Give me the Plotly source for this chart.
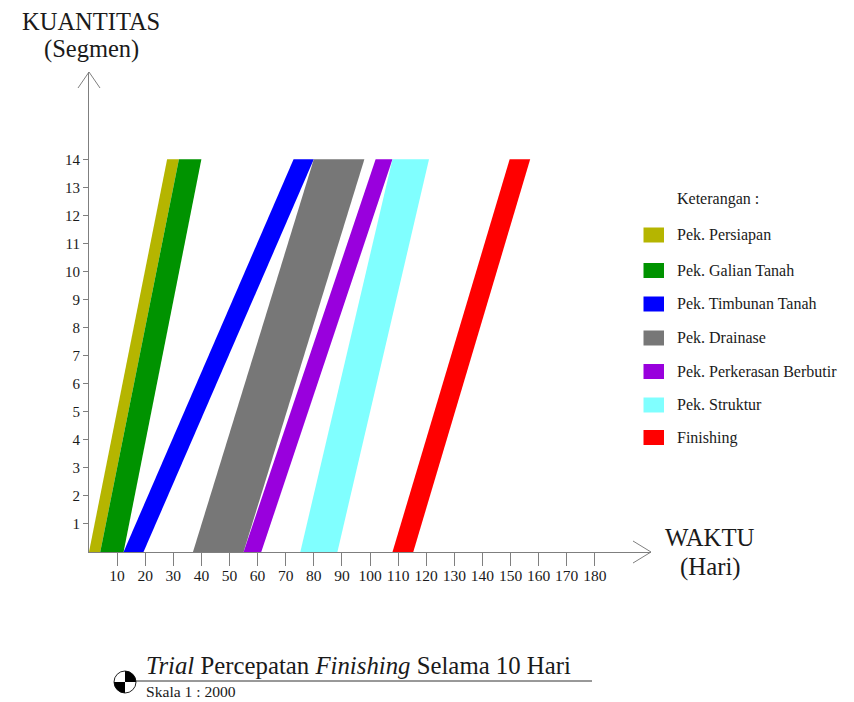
import plotly.graph_objects as go

names = ["Pek. Persiapan", "Pek. Galian Tanah", "Pek. Timbunan Tanah", "Pek. Drainase",
         "Pek. Perkerasan Berbutir", "Pek. Struktur", "Finishing"]
colors = ["#B5B500", "#009300", "#0000FF", "#777777", "#9900DD", "#80FFFF", "#FF0000"]
start_left = [0, 4, 12.3, 37, 55, 75.2, 108]
start_right = [4, 12.3, 19.4, 55, 61.3, 88.4, 115.4]
end_left = [27.8, 32, 72.8, 80, 102, 108, 149.7]
end_right = [32, 40, 80, 98, 108, 121, 157]
x_ticks = list(range(10, 190, 10))
y_ticks = list(range(1, 15))
Q_MAX = 14

W, H = 854, 702
L, R, T, B = 89, 203, 72, 150
SERIF = "Liberation Serif, Times New Roman, serif"
AXIS = "#7f7f7f"
INK = "#1a1a1a"

fig = go.Figure()
for n, c, a, b, d, e in zip(names, colors, start_left, start_right, end_left, end_right):
    fig.add_trace(go.Scatter(x=[a, b, e, d, a], y=[0, 0, Q_MAX, Q_MAX, 0], mode="lines",
                             fill="toself", fillcolor=c, line=dict(width=0, color=c),
                             name=n, hoverinfo="name", showlegend=False))

def px(x): return x / W
def py(y): return 1 - y / H

annos = []
def text(x, y, s, size, anchor="center", color=INK):
    annos.append(dict(xref="paper", yref="paper", x=px(x), y=py(y), text=s, showarrow=False,
                      xanchor=anchor, yanchor="middle", xshift=-1 if anchor == "left" else 0,
                      font=dict(family=SERIF, size=size, color=color)))

text(91, 21, "KUANTITAS", 24.5)
text(91, 49, "(Segmen)", 24.5)
text(710, 537, "WAKTU", 24.8)
text(710, 567, "(Hari)", 24.8)
text(145, 665, "<i>Trial</i> Percepatan <i>Finishing</i> Selama 10 Hari", 24.8, "left")
text(145, 691, "Skala 1 : 2000", 15.6, "left")

shapes = []
def line(x0, y0, x1, y1, color=AXIS, width=1):
    shapes.append(dict(type="line", xref="paper", yref="paper", x0=px(x0), y0=py(y0), x1=px(x1), y1=py(y1),
                       line=dict(color=color, width=width)))
# axis arrow heads
line(78, 88, 89, 72); line(100, 88, 89, 72)
line(633, 541, 651, 552); line(633, 563, 651, 552)
# title underline
line(115, 681, 592, 681, "#333333", 1)
# scale symbol
cx, cy, r = 125, 682, 11
k = 0.5523 * r
shapes.append(dict(type="circle", xref="paper", yref="paper", x0=px(cx - r), x1=px(cx + r),
                   y0=py(cy - r), y1=py(cy + r), line=dict(color="#222222", width=1), fillcolor="white"))
for sx, sy in [(1, -1), (-1, 1)]:
    shapes.append(dict(type="path", xref="paper", yref="paper",
                       path=f"M {px(cx)} {py(cy)} L {px(cx + sx*r)} {py(cy)} "
                            f"C {px(cx + sx*r)} {py(cy + sy*k)} {px(cx + sx*k)} {py(cy + sy*r)} {px(cx)} {py(cy + sy*r)} Z",
                       fillcolor="#000000", line=dict(width=0)))

# key
key_y = [235, 270.5, 304, 338, 371.5, 405, 437.5]
text(676, 199, "Keterangan :", 16, "left")
for n, c, yy in zip(names, colors, key_y):
    shapes.append(dict(type="rect", xref="paper", yref="paper", x0=px(643.5), x1=px(664),
                       y0=py(yy - 7.5), y1=py(yy + 7.5), fillcolor=c, line=dict(width=0)))
    text(676, yy, n, 16, "left")

fig.update_layout(
    width=W, height=H, margin=dict(l=0, r=0, t=0, b=0), autosize=False,
    paper_bgcolor="white", plot_bgcolor="white", showlegend=False,
    font=dict(family=SERIF, color=INK),
    xaxis=dict(domain=[L / W, 1 - R / W], range=[0, (W - L - R) / 2.81], tickvals=x_ticks,
               ticktext=[str(v) for v in x_ticks], ticks="outside", ticklen=13, tickcolor=AXIS, tickwidth=1,
               showline=True, linecolor=AXIS, linewidth=1, showgrid=False, zeroline=False,
               tickfont=dict(family=SERIF, size=15.5, color=INK), tickangle=0, fixedrange=True,
               ticklabelstandoff=-4),
    yaxis=dict(domain=[B / H, 1 - T / H], range=[0, (H - T - B) / 28.05], tickvals=y_ticks,
               ticktext=[str(v) for v in y_ticks], ticks="outside", ticklen=5, tickcolor=AXIS, tickwidth=1,
               showline=True, linecolor=AXIS, linewidth=1, showgrid=False, zeroline=False,
               tickfont=dict(family=SERIF, size=15, color=INK), fixedrange=True),
    annotations=annos, shapes=shapes,
)
fig.write_html("out.html", config=dict(displayModeBar=False),
               post_script="document.body.style.margin='0';document.documentElement.style.overflow='hidden';")
